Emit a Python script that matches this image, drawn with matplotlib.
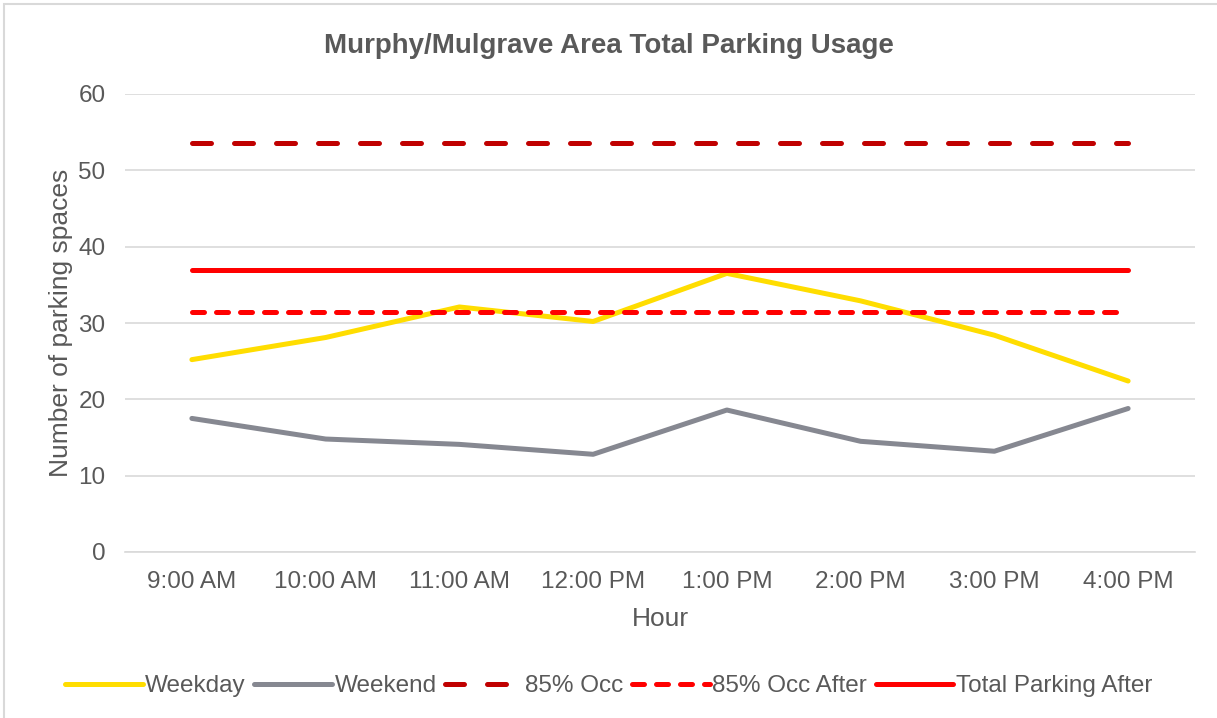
import matplotlib
matplotlib.use("Agg")
import matplotlib.pyplot as plt
from matplotlib.patches import Rectangle

plt.rcParams['font.family'] = ['Liberation Sans', 'DejaVu Sans']

hours = ["9:00 AM", "10:00 AM", "11:00 AM", "12:00 PM", "1:00 PM", "2:00 PM", "3:00 PM", "4:00 PM"]
weekday = [25.2, 28.1, 32.1, 30.2, 36.5, 32.9, 28.4, 22.4]
weekend = [17.5, 14.8, 14.1, 12.8, 18.6, 14.5, 13.2, 18.8]
occ85 = [53.6] * 8
occ85_after = [31.4] * 8
total_after = [37.0] * 8


def main():
    fig = plt.figure(figsize=(12.17, 7.18), dpi=100)
    ax = fig.add_axes([125 / 1217, 1 - 552 / 718, 1070 / 1217, 458 / 718])
    x = list(range(len(hours)))
    lw = 3.6

    ax.plot(x, weekday, color="#FFDD00", lw=lw, solid_capstyle="round", label="Weekday")
    ax.plot(x, weekend, color="#868891", lw=lw, solid_capstyle="round", label="Weekend")
    ax.plot(x, occ85, color="#C00000", lw=lw, dashes=(3.8, 4.6),
            dash_capstyle="round", label="85% Occ")
    ax.plot(x, occ85_after, color="#FF0000", lw=lw, dashes=(2.4, 2.4),
            dash_capstyle="round", label="85% Occ After")
    ax.plot(x, total_after, color="#FF0000", lw=lw, solid_capstyle="round", label="Total Parking After")

    ax.set_xlim(-0.5, len(hours) - 0.5)
    ax.set_ylim(0, 60)
    ax.set_yticks(range(0, 61, 10))
    ax.set_xticks(x)
    ax.set_xticklabels(hours)
    ax.grid(axis="y", color="#D9D9D9", lw=1.2)
    ax.set_axisbelow(True)
    for s in ["top", "right", "left"]:
        ax.spines[s].set_visible(False)
    ax.spines["bottom"].set_color("#D9D9D9")
    ax.spines["bottom"].set_linewidth(1.2)
    ax.tick_params(length=0, labelsize=17.5, labelcolor="#595959", pad=14)
    ax.tick_params(axis="y", pad=14)
    ax.set_xlabel("Hour", fontsize=19, color="#595959", labelpad=10)
    ax.set_ylabel("Number of parking spaces", fontsize=19, color="#595959", labelpad=4)

    fig.text(0.5, 1 - 46 / 718, "Murphy/Mulgrave Area Total Parking Usage",
             ha="center", va="center", fontsize=20, fontweight="bold", color="#595959")

    fig.legend(loc="center", bbox_to_anchor=(0.5, 1 - 686 / 718), ncol=5, frameon=False,
               fontsize=17.5, labelcolor="#595959", handlelength=3.2, handletextpad=0.1,
               columnspacing=0.35)

    fig.patches.append(Rectangle((4 / 1217, -0.01), 1.2, 1 - 4 / 718 + 0.01,
                                 transform=fig.transFigure, fill=False,
                                 edgecolor="#D9D9D9", lw=1.5))
    fig.savefig("out.png", dpi=100)


if __name__ == "__main__":
    main()
